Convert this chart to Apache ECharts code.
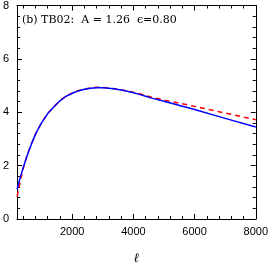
<!DOCTYPE html>
<html><head><meta charset="utf-8">
<script src="https://cdn.jsdelivr.net/npm/echarts@6/dist/echarts.min.js"></script>
<style>html,body{margin:0;padding:0;background:#fff}#c{width:271px;height:270px}</style>
</head><body><div id="c"></div>
<script>
const ells = [200,300,400,500,600,700,800,900,1000,1200,1400,1600,1800,2000,2200,2400,2600,2800,3000,3200,3400,3600,3800,4000,4200,4400,4600,5000,6000,7000,8000];
const blueVals = [1.12,1.55,1.93,2.28,2.60,2.90,3.17,3.40,3.60,3.95,4.20,4.43,4.60,4.71,4.80,4.86,4.90,4.92,4.92,4.90,4.87,4.83,4.79,4.73,4.67,4.60,4.53,4.41,4.10,3.77,3.45];
const redVals  = [0.85,1.40,1.90,2.30,2.62,2.91,3.18,3.41,3.61,3.96,4.21,4.44,4.61,4.72,4.81,4.87,4.91,4.94,4.93,4.91,4.88,4.84,4.80,4.75,4.69,4.63,4.56,4.46,4.22,3.97,3.72];
const xMajor = [2000,4000,6000,8000];
const xMinor = [400,800,1200,1600,2400,2800,3200,3600,4400,4800,5200,5600,6400,6800,7200,7600];
const annotation = '(b) TB02:  A = 1.26  \u03f5=0.80';
const xName = '\u2113';

const chart = echarts.init(document.getElementById('c'), null, {renderer:'canvas'});
const lbl = {fontFamily:'Liberation Sans', fontSize:11, color:'#000'};
function xa(pos, vals, len, showLabel){
  return {type:'value', min:200, max:8000, position:pos,
    axisLine:{show:true, onZero:false, lineStyle:{color:'#000', width:1}},
    axisTick:{show:true, inside:true, length:len, customValues:vals, lineStyle:{color:'#000'}},
    axisLabel:{show:showLabel, customValues:vals, margin:7, formatter:(v)=>String(v), ...lbl},
    splitLine:{show:false}};
}
function ya(pos, showLabel){
  return {type:'value', min:0, max:8, interval:2, position:pos,
    axisLine:{show:true, onZero:false, lineStyle:{color:'#000', width:1}},
    axisTick:{show:true, inside:true, length:5, lineStyle:{color:'#000'}},
    minorTick:{show:true, splitNumber:5, length:3, lineStyle:{color:'#000'}},
    axisLabel:{show:showLabel, margin:8, ...lbl},
    splitLine:{show:false}};
}
const bottomMajor = xa('bottom', xMajor, 5, true);
bottomMajor.name = xName;
bottomMajor.nameLocation = 'middle';
bottomMajor.nameGap = 33;
bottomMajor.nameTextStyle = {fontFamily:'DejaVu Serif', fontStyle:'italic', fontSize:13, color:'#000'};
chart.setOption({
  animation:false,
  grid:{left:16, right:15, top:5, bottom:40, containLabel:false},
  xAxis:[bottomMajor, xa('bottom', xMinor, 3, false), xa('top', xMajor, 5, false), xa('top', xMinor, 3, false)],
  yAxis:[ya('left', true), ya('right', false)],
  graphic:[{type:'text', left:22, top:15, style:{text:annotation, font:'11px "DejaVu Serif"', fill:'#000'}}],
  series:[
    {type:'line', data:ells.map((e,i)=>[e, redVals[i]]), symbol:'none', xAxisIndex:0, yAxisIndex:0,
     lineStyle:{color:'#ff0000', width:1.5, type:[5,4]}, z:2},
    {type:'line', data:ells.map((e,i)=>[e, blueVals[i]]), symbol:'none', xAxisIndex:0, yAxisIndex:0,
     lineStyle:{color:'#0000ff', width:1.5}, z:3}
  ]
});
</script></body></html>
